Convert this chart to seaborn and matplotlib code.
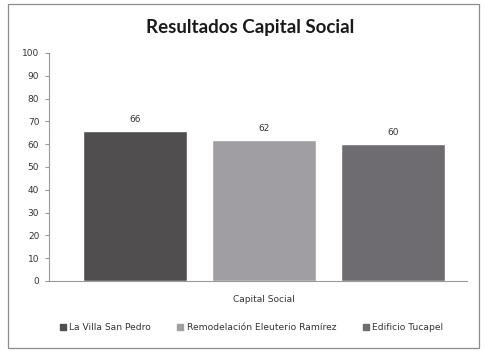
import matplotlib
matplotlib.use("Agg")
import matplotlib.pyplot as plt
import seaborn as sns
import pandas as pd
from matplotlib.patches import Rectangle
from matplotlib.lines import Line2D

category = ["Capital Social"]
series = ["La Villa San Pedro", "Remodelación Eleuterio Ramírez", "Edificio Tucapel"]
values = [66, 62, 60]
colors = ["#514e50", "#a09ea2", "#6e6c70"]
yticks = [0, 10, 20, 30, 40, 50, 60, 70, 80, 90, 100]

df = pd.DataFrame({"cat": category * len(series), "serie": series, "valor": values})

sns.set_style("white")
plt.rcParams['font.family'] = ['DejaVu Sans']

fig = plt.figure(figsize=(4.86, 3.54), dpi=100)
ax = fig.add_axes([49/486, 1-281/354, (467-49)/486, (281-53)/354])

sns.barplot(data=df, x="cat", y="valor", hue="serie", palette=colors,
            width=0.8, gap=0.2, ax=ax, legend=False, saturation=1)

for c in ax.containers:
    ax.bar_label(c, fmt="%d", padding=5, fontsize=6.5, color="#333333")

ax.set_ylim(0, 100)
ax.set_yticks(yticks)
ax.set_xlim(-215/483.75, (418-215)/483.75)
ax.set_xticks([])
ax.set_xlabel("")
ax.set_ylabel("")
ax.tick_params(axis="y", labelsize=6.5, colors="#333333", length=3, width=0.8, pad=4, direction="out", left=True)
for s in ["top", "right"]:
    ax.spines[s].set_visible(False)
for s in ["left", "bottom"]:
    ax.spines[s].set_color("#999999")
    ax.spines[s].set_linewidth(0.8)
ax.tick_params(axis="y", color="#999999")

fig.text(264/486, 1-300/354, category[0], ha="center", va="center", fontsize=6.5, color="#333333")
fig.text(250/486, 1-27/354, "Resultados Capital Social", ha="center", va="center",
         fontsize=13.5, fontweight="bold", family="Lato", color="#1a1a1a")

handles = [Line2D([], [], marker="s", linestyle="", markersize=5, markerfacecolor=c, markeredgecolor=c) for c in colors]
fig.legend(handles, series, loc="center", bbox_to_anchor=(251/486, 1-328/354), ncol=3,
           frameon=False, fontsize=6.6, handletextpad=0.3, columnspacing=2.8, handlelength=0.8,
           labelcolor="#333333")

fig.patches.append(Rectangle((8/486, 1-348/354), (479-8)/486, (348-4)/354, transform=fig.transFigure,
                             fill=False, edgecolor="#8c8c8c", linewidth=0.9))

fig.savefig("out.png", dpi=100)
